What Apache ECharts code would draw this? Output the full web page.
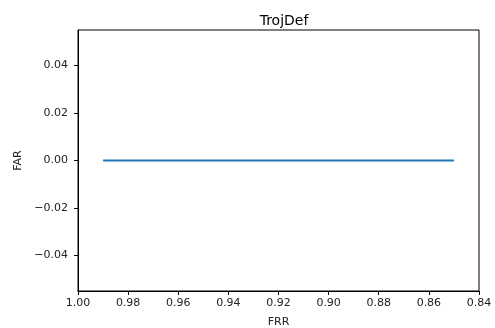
<!DOCTYPE html>
<html>
<head>
<meta charset="utf-8">
<script src="https://cdn.jsdelivr.net/npm/echarts@6/dist/echarts.min.js"></script>
<style>html,body{margin:0;padding:0;background:#fff;}#c{width:495px;height:328px;}</style>
</head>
<body>
<div id="c"></div>
<script>
const frr = [0.99, 0.97, 0.95, 0.93, 0.91, 0.89, 0.87, 0.85];
const far = [0, 0, 0, 0, 0, 0, 0, 0];
const xTicks = [1.00, 0.98, 0.96, 0.94, 0.92, 0.90, 0.88, 0.86, 0.84];
const yTicks = [-0.04, -0.02, 0.00, 0.02, 0.04];
const titleText = 'TrojDef';
const xName = 'FRR';
const yName = 'FAR';

const chart = echarts.init(document.getElementById('c'));
const fmt = v => { const s = Math.abs(v) < 1e-9 ? '0.00' : v.toFixed(2); return s.replace('-', '\u2212'); };
const font = 'DejaVu Sans';
chart.setOption({
  animation: false,
  title: { text: titleText, left: 279, top: 9, textAlign: 'center',
    textStyle: { fontFamily: font, fontSize: 14, fontWeight: 'normal', color: '#000' } },
  grid: { left: 78, right: 16, top: 30, bottom: 37, outerBoundsMode: 'none', containLabel: false,
    show: true, borderColor: '#000', borderWidth: 1, backgroundColor: 'transparent' },
  xAxis: {
    type: 'value', inverse: true, min: 0.84, max: 1.0,
    splitLine: { show: false },
    axisLine: { show: true, onZero: false, lineStyle: { color: '#000', width: 1 } },
    axisTick: { show: true, inside: false, length: 4, customValues: xTicks, lineStyle: { color: '#000' } },
    axisLabel: { customValues: xTicks, formatter: fmt, fontFamily: font, fontSize: 11, color: '#222', margin: 7 },
    name: xName, nameLocation: 'middle', nameGap: 26,
    nameTextStyle: { fontFamily: font, fontSize: 11, color: '#222' }
  },
  yAxis: {
    type: 'value', min: -0.055, max: 0.055,
    splitLine: { show: false },
    axisLine: { show: true, onZero: false, lineStyle: { color: '#000', width: 1 } },
    axisTick: { show: true, inside: false, length: 4, customValues: yTicks, lineStyle: { color: '#000' } },
    axisLabel: { customValues: yTicks, formatter: fmt, fontFamily: font, fontSize: 11, color: '#222', margin: 10 },
    name: yName, nameLocation: 'middle', nameGap: 49, nameRotate: 90,
    nameTextStyle: { fontFamily: font, fontSize: 11, color: '#222' }
  },
  series: [{
    type: 'line', data: frr.map((x, i) => [x, far[i]]),
    showSymbol: false, symbol: 'none',
    lineStyle: { color: '#1f77b4', width: 1.8 }
  }]
});
</script>
</body>
</html>
